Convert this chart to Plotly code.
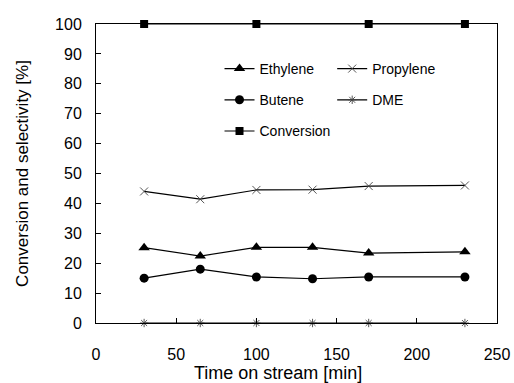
import plotly.graph_objects as go

time_min = [30, 65, 100, 135, 170, 230]
ethylene = [25.2, 22.4, 25.3, 25.3, 23.4, 23.8]
propylene = [44.0, 41.4, 44.5, 44.6, 45.8, 46.0]
butene = [15.0, 18.0, 15.4, 14.8, 15.4, 15.4]
dme = [0, 0, 0, 0, 0, 0]
conv_time = [30, 100, 170, 230]
conversion = [100, 100, 100, 100]

FONT = "Arial, Liberation Sans, sans-serif"
BLACK = "#000000"

fig = go.Figure()

def add(name, x, y, symbol, size, legend, group, open_marker=False):
    marker = dict(symbol=symbol, size=size, color=BLACK)
    if open_marker:
        marker["color"] = "#444444"
        marker["line"] = dict(color="#444444", width=0.9)
    fig.add_trace(go.Scatter(
        x=x, y=y, name=name, mode="lines+markers",
        line=dict(color=BLACK, width=1.2),
        marker=marker, cliponaxis=False,
        legend=legend, legendgroup=group,
    ))

add("Ethylene", time_min, ethylene, "triangle-up", 10, "legend", "g1")
add("Butene", time_min, butene, "circle", 9, "legend", "g2")
add("Conversion", conv_time, conversion, "square", 8, "legend", "g3")
add("Propylene", time_min, propylene, "x-thin-open", 8, "legend2", "g4", True)
add("DME", time_min, dme, "asterisk-open", 7, "legend2", "g5", True)

axis_common = dict(
    showline=True, linecolor=BLACK, linewidth=1, mirror=True,
    ticks="inside", ticklen=5, tickcolor=BLACK, tickwidth=1,
    showgrid=False, zeroline=False, automargin=False,
    tickfont=dict(family=FONT, size=16, color=BLACK),
)

fig.update_layout(
    width=514, height=383,
    margin=dict(l=96, r=17, t=24, b=60, autoexpand=False),
    paper_bgcolor="white", plot_bgcolor="white",
    font=dict(family=FONT, color=BLACK),
    xaxis=dict(range=[0, 250], tickvals=[0, 50, 100, 150, 200, 250],
               ticklabelstandoff=17,
               **axis_common),
    yaxis=dict(range=[0, 100], tickvals=list(range(0, 101, 10)),
               ticklabelstandoff=10,
               title=dict(text="Conversion and selectivity [%]", font=dict(family=FONT, size=17, color=BLACK), standoff=22),
               **axis_common),
    annotations=[dict(text="Time on stream [min]", xref="paper", yref="paper",
                      x=0.454, y=0, xanchor="center", yanchor="middle", yshift=-50,
                      showarrow=False, font=dict(family=FONT, size=18, color=BLACK))],
    legend=dict(x=0.308, y=0.903, xanchor="left", yanchor="top", bgcolor="rgba(0,0,0,0)",
                font=dict(family=FONT, size=14, color=BLACK), tracegroupgap=10,
                traceorder="grouped", itemwidth=30),
    legend2=dict(x=0.589, y=0.903, xanchor="left", yanchor="top", bgcolor="rgba(0,0,0,0)",
                 font=dict(family=FONT, size=14, color=BLACK), tracegroupgap=10,
                 traceorder="grouped", itemwidth=30),
)

fig.write_html("out.html", config={"displayModeBar": False},
               post_script="document.body.style.margin='0';document.body.style.overflow='hidden';")
